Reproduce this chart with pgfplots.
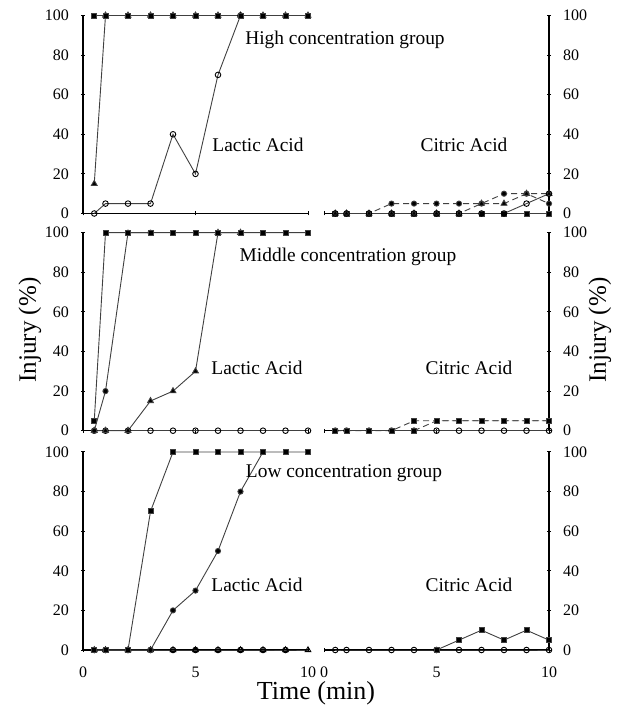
\documentclass[border=0pt]{standalone}
\usepackage{fontspec}
\setmainfont{Liberation Serif}
\usepackage{pgfplots}
\pgfplotsset{compat=1.18}

\pgfplotsset{
  panel/.style={
    scale only axis, width=112.5pt, height=99pt,
    xmin=0, xmax=10, ymin=0, ymax=100,
    xtick={0,5,10}, ytick={0,20,...,100},
    tick align=inside, major tick length=2pt,
    tick style={black, line width=0.5pt},
    tick label style={font=\fontsize{8}{9}\selectfont},
    /pgf/number format/assume math mode=true,
    clip=false, anchor=south west,
  },
  leftp/.style={panel, axis x line=bottom, axis y line=left,
    axis line style={-, line width=0.6pt}, yticklabel style={xshift=-2.5pt}},
  rightp/.style={panel, axis x line=bottom, axis y line=right,
    axis line style={-, line width=0.6pt}, yticklabel style={xshift=2.5pt}},
  notime/.style={xticklabels=\empty},
  time/.style={xticklabel style={yshift=-4pt}},
  ln/.style={gray!50!black, line width=0.45pt},
  dln/.style={ln, densely dashed},
  sq/.style={mark=square*, mark size=1.25pt, mark options={solid, fill=black}},
  fc/.style={mark=*, mark size=1.3pt, mark options={solid, fill=black}},
  oc/.style={mark=o, mark size=1.4pt, mark options={solid, fill=white, draw=black}},
  tri/.style={mark=triangle*, mark size=1.7pt, mark options={solid, fill=black}},
  otri/.style={mark=triangle, mark size=1.6pt, mark options={solid, fill=white, draw=black}},
}

\begin{document}
\begin{tikzpicture}
\path[use as bounding box] (0,0) rectangle (311pt,356pt);

% ---- High concentration ----
\begin{axis}[leftp, notime, at={(41.5pt,249.25pt)}]
\addplot[ln, tri] coordinates {(0.5,15) (1,100) (2,100) (3,100) (4,100) (5,100) (6,100) (7,100) (8,100) (9,100) (10,100)};
\addplot[ln, oc] coordinates {(0.5,0) (1,5) (2,5) (3,5) (4,40) (5,20) (6,70) (7,100)};
\addplot[ln, sq] coordinates {(0.5,100) (1,100) (2,100) (3,100) (4,100) (5,100) (6,100) (7,100) (8,100) (9,100) (10,100)};
\end{axis}
\begin{axis}[rightp, notime, at={(162pt,249.25pt)}]
\addplot[ln, sq] coordinates {(0.5,0) (1,0) (2,0) (3,0) (4,0) (5,0) (6,0) (7,0) (8,0) (9,0) (10,0)};
\addplot[dln, fc] coordinates {(0.5,0) (1,0) (2,0) (3,5) (4,5) (5,5) (6,5) (7,5) (8,10) (9,10) (10,5)};
\addplot[dln, tri] coordinates {(0.5,0) (1,0) (2,0) (3,0) (4,0) (5,0) (6,0) (7,5) (8,5) (9,10) (10,10)};
\addplot[ln, oc] coordinates {(0.5,0) (1,0) (2,0) (3,0) (4,0) (5,0) (6,0) (7,0) (8,0) (9,5) (10,10)};
\end{axis}

% ---- Middle concentration ----
\begin{axis}[leftp, notime, at={(41.5pt,140.65pt)}]
\addplot[ln, oc] coordinates {(0.5,0) (1,0) (2,0) (3,0) (4,0) (5,0) (6,0) (7,0) (8,0) (9,0) (10,0)};
\addplot[ln, tri] coordinates {(0.5,0) (1,0) (2,0) (3,15) (4,20) (5,30) (6,100) (7,100)};
\addplot[ln, fc] coordinates {(0.5,0) (1,20) (2,100) (3,100)};
\addplot[ln, sq] coordinates {(0.5,5) (1,100) (2,100) (3,100) (4,100) (5,100) (6,100) (7,100) (8,100) (9,100) (10,100)};
\end{axis}
\begin{axis}[rightp, notime, at={(162pt,140.65pt)}]
\addplot[ln, oc] coordinates {(0.5,0) (1,0) (2,0) (3,0) (4,0) (5,0) (6,0) (7,0) (8,0) (9,0) (10,0)};
\addplot[dln, sq] coordinates {(0.5,0) (1,0) (2,0) (3,0) (4,5) (5,5) (6,5) (7,5) (8,5) (9,5) (10,5)};
\addplot[dln, sq] coordinates {(4,0) (5,5) (6,5) (7,5) (8,5) (9,5) (10,5)};
\end{axis}

% ---- Low concentration ----
\begin{axis}[leftp, time, at={(41.5pt,31pt)}]
\addplot[ln, otri] coordinates {(0.5,0) (1,0) (2,0) (3,0) (4,0) (5,0) (6,0) (7,0) (8,0) (9,0) (10,0)};
\addplot[ln, oc] coordinates {(0.5,0) (1,0) (2,0) (3,0) (4,0) (5,0) (6,0) (7,0) (8,0) (9,0)};
\addplot[ln, fc] coordinates {(0.5,0) (1,0) (2,0) (3,0) (4,20) (5,30) (6,50) (7,80) (8,100)};
\addplot[ln, sq] coordinates {(0.5,0) (1,0) (2,0) (3,70) (4,100) (5,100) (6,100) (7,100) (8,100) (9,100) (10,100)};
\end{axis}
\begin{axis}[rightp, time, at={(162pt,31pt)}]
\addplot[ln, oc] coordinates {(0.5,0) (1,0) (2,0) (3,0) (4,0) (5,0) (6,0) (7,0) (8,0) (9,0) (10,0)};
\addplot[ln, sq] coordinates {(5,0) (6,5) (7,10) (8,5) (9,10) (10,5)};
\end{axis}

% ---- texts ----
\begin{scope}[every node/.style={font=\fontsize{9.7}{11}\selectfont, inner sep=0pt}]
\node at (172.5pt,336pt) {High concentration group};
\node at (174pt,227.5pt) {Middle concentration group};
\node at (172pt,119.5pt) {Low concentration group};
\node at (129pt,283.5pt) {Lactic Acid};
\node at (232pt,283.5pt) {Citric Acid};
\node at (128.5pt,172pt) {Lactic Acid};
\node at (234.5pt,172pt) {Citric Acid};
\node at (128.5pt,63.5pt) {Lactic Acid};
\node at (234.5pt,63.5pt) {Citric Acid};
\end{scope}
\node[font=\fontsize{12.5}{14}\selectfont, rotate=90, inner sep=0pt] at (15pt,191pt) {Injury (\%)};
\node[font=\fontsize{12.5}{14}\selectfont, rotate=90, inner sep=0pt] at (300pt,191pt) {Injury (\%)};
\node[font=\fontsize{13}{15}\selectfont, inner sep=0pt] at (158pt,9.5pt) {Time (min)};
\end{tikzpicture}
\end{document}
